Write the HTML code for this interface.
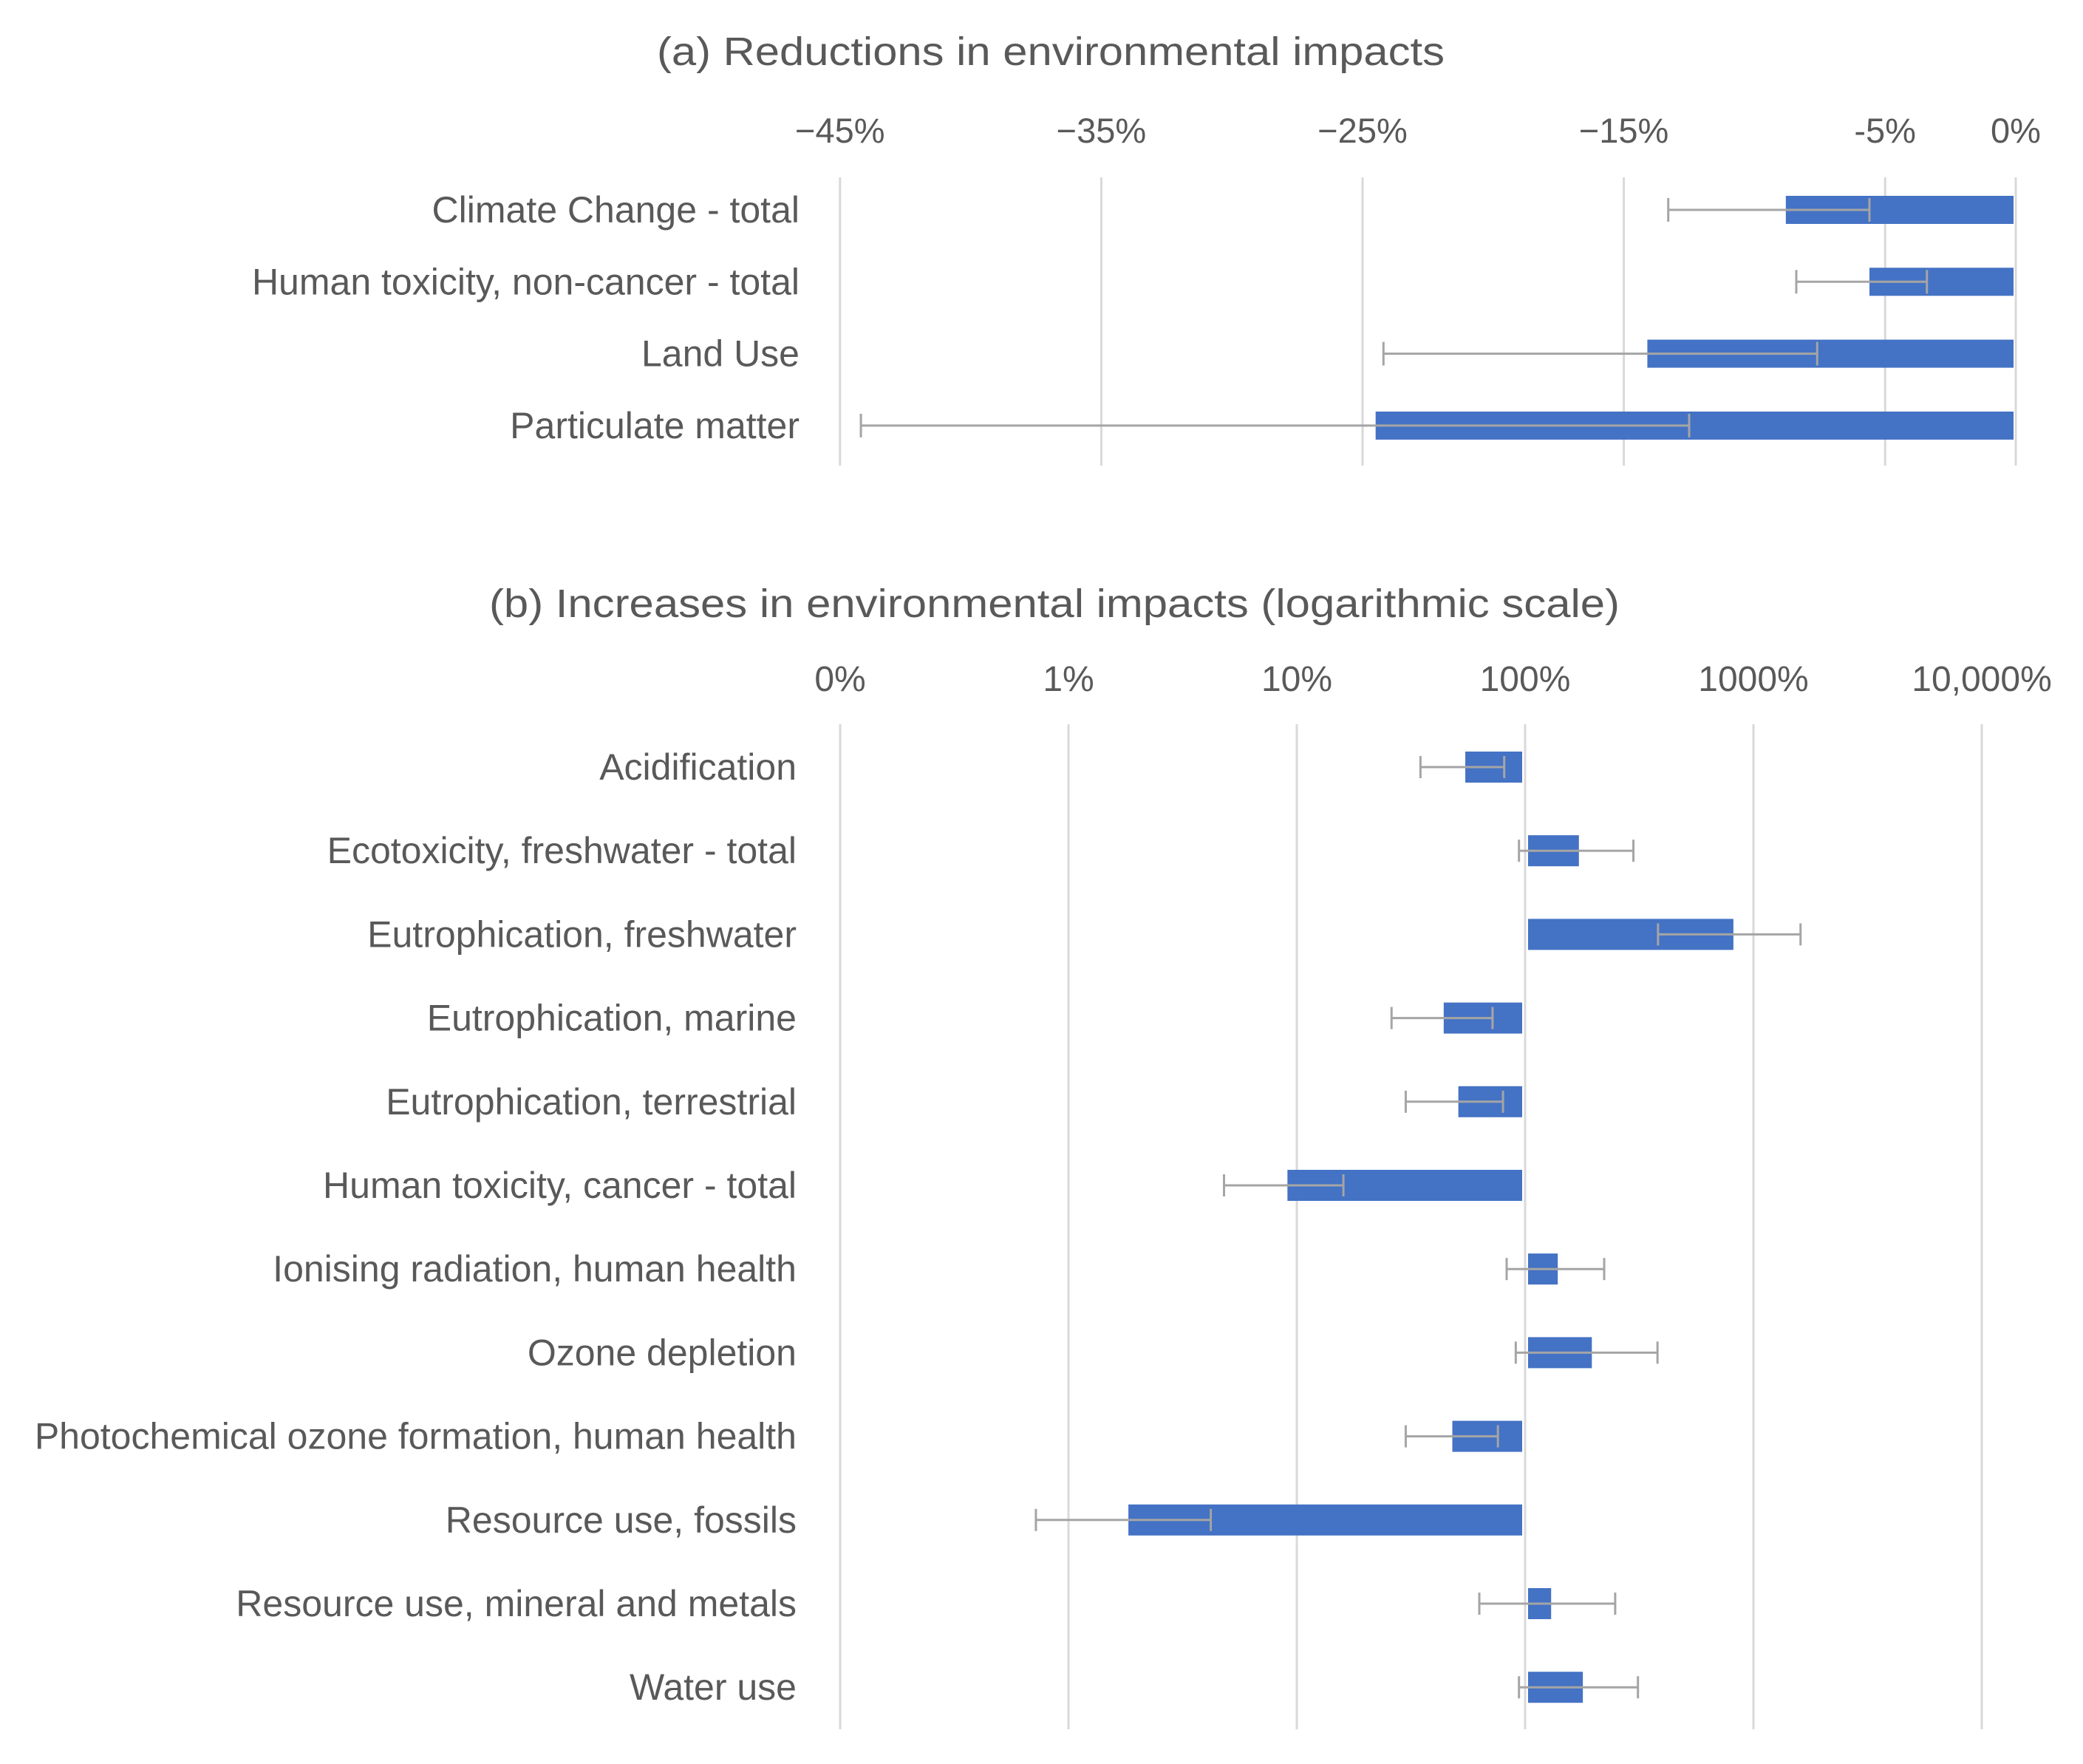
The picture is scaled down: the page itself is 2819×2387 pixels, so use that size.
<!DOCTYPE html>
<html><head><meta charset="utf-8"><style>
html,body{margin:0;padding:0;background:#fff;}
svg{display:block;font-family:"Liberation Sans",Arial,sans-serif;}
</style></head><body>
<svg id="chart" width="2819" height="2387" viewBox="0 0 2819 2387" xmlns="http://www.w3.org/2000/svg">
<rect width="2819" height="2387" fill="#fff"/>
<text x="1422" y="88" font-size="54" fill="#595959" text-anchor="middle" textLength="1066" lengthAdjust="spacingAndGlyphs">(a) Reductions in environmental impacts</text>
<text x="1427" y="835" font-size="54" fill="#595959" text-anchor="middle" textLength="1530" lengthAdjust="spacingAndGlyphs">(b) Increases in environmental impacts (logarithmic scale)</text>
<g id="ga"></g>
<g id="gb"></g>
</svg>
<script>
// Chart (a): reductions (linear %)
const catsA = ["Climate Change - total","Human toxicity, non-cancer - total","Land Use","Particulate matter"];
const valsA = [-8.8,-5.6,-14.1,-24.5];
const lowA = [-13.3,-8.4,-24.2,-44.2];
const highA = [-5.6,-3.4,-7.6,-12.5];
const ticksA = [-45,-35,-25,-15,-5,0];
const tickLabelsA = ["\u221245%","\u221235%","\u221225%","\u221215%","-5%","0%"];

// Chart (b): increases (log %)
const catsB = ["Acidification","Ecotoxicity, freshwater - total","Eutrophication, freshwater","Eutrophication, marine","Eutrophication, terrestrial","Human toxicity, cancer - total","Ionising radiation, human health","Ozone depletion","Photochemical ozone formation, human health","Resource use, fossils","Resource use, mineral and metals","Water use"];
const valsB = [54.7,172,817,44,51,9.1,139,196,48,1.83,130,179];
const lowB = [34.8,94,382,26,30,4.8,83,91,30,0.72,63,94];
const highB = [81,298,1608,72,80,16,222,380,76,4.2,248,312];
const ticksB = [0.1,1,10,100,1000,10000];
const tickLabelsB = ["0%","1%","10%","100%","1000%","10,000%"];

const NS="http://www.w3.org/2000/svg";
function mk(parent,tag,attrs){const e=document.createElementNS(NS,tag);for(const k in attrs)e.setAttribute(k,attrs[k]);parent.appendChild(e);return e;}

const xA = v => 2728 + v*35.36;
const yA = i => 284 + i*97.3;
const xB = v => 2064 + (Math.log10(v)-2)*309;
const yB = i => 1038 + i*113.2;

const ga=document.getElementById('ga');
ticksA.forEach((t,i)=>{
  const l=mk(ga,'line',{x1:xA(t),x2:xA(t),y1:240,y2:630,stroke:'#d9d9d9','stroke-width':3});
  
  
  const tx=mk(ga,'text',{x:xA(t),y:193,'font-size':47,fill:'#595959','text-anchor':'middle'});
  
  
  tx.textContent=tickLabelsA[i];
});
catsA.forEach((c,i)=>{
  const y=yA(i);
  const tx=mk(ga,'text',{x:1082,y:y+17,'font-size':50,fill:'#595959','text-anchor':'end'});
  
  
  tx.textContent=c;
  const b=mk(ga,'rect',{x:xA(valsA[i]),y:y-19,width:xA(0)-3-xA(valsA[i]),height:38,fill:'#4472c4'});
  
  
  const e=mk(ga,'g',{stroke:'#a5a5a5','stroke-width':3});
  
  
  mk(e,'line',{x1:xA(lowA[i]),x2:xA(highA[i]),y1:y,y2:y});
  mk(e,'line',{x1:xA(lowA[i]),x2:xA(lowA[i]),y1:y-16,y2:y+16});
  mk(e,'line',{x1:xA(highA[i]),x2:xA(highA[i]),y1:y-16,y2:y+16});
});

const gb=document.getElementById('gb');
ticksB.forEach((t,i)=>{
  const l=mk(gb,'line',{x1:xB(t),x2:xB(t),y1:980,y2:2340,stroke:'#d9d9d9','stroke-width':3});
  
  
  const tx=mk(gb,'text',{x:xB(t),y:935,'font-size':48,fill:'#595959','text-anchor':'middle'});
  
  
  tx.textContent=tickLabelsB[i];
});
catsB.forEach((c,i)=>{
  const y=yB(i);
  const tx=mk(gb,'text',{x:1078,y:y+17,'font-size':50,fill:'#595959','text-anchor':'end'});
  
  
  tx.textContent=c;
  const x0=Math.min(xB(100),xB(valsB[i])), x1=Math.max(xB(100),xB(valsB[i]));
  const b=mk(gb,'rect',{x:x0+(valsB[i]>100?4:0),y:y-21,width:x1-x0-4,height:42,fill:'#4472c4'});
  
  
  const e=mk(gb,'g',{stroke:'#a5a5a5','stroke-width':3});
  
  
  mk(e,'line',{x1:xB(lowB[i]),x2:xB(highB[i]),y1:y,y2:y});
  mk(e,'line',{x1:xB(lowB[i]),x2:xB(lowB[i]),y1:y-15,y2:y+15});
  mk(e,'line',{x1:xB(highB[i]),x2:xB(highB[i]),y1:y-15,y2:y+15});
});
</script>
</body></html>
